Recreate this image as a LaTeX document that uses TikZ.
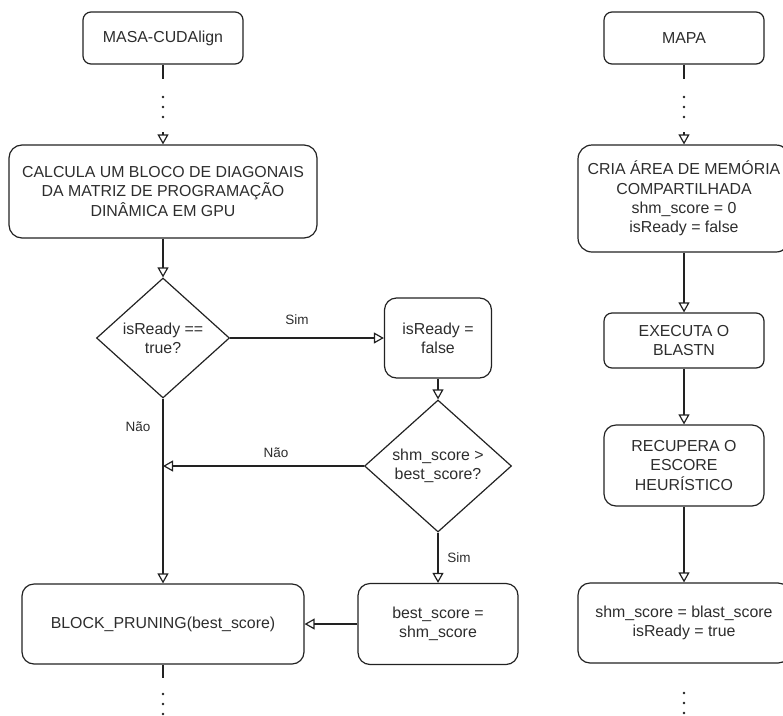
\documentclass[tikz,border=0pt]{standalone}
\usepackage{fontspec}
\setmainfont{Liberation Sans}
\usetikzlibrary{shapes.geometric,arrows.meta,calc}
\definecolor{ink}{RGB}{34,34,34}
\definecolor{txt}{RGB}{45,45,45}
\begin{document}
\begin{tikzpicture}[x=1pt,y=-1pt,
  box/.style={draw=ink, line width=1.2pt, rounded corners=#1, align=center, inner sep=0pt,
    text=txt, font=\fontsize{15.9}{19.2}\selectfont},
  box/.default=10pt,
  dec/.style={draw=ink, line width=1.2pt, diamond, align=center, inner sep=0pt,
    text=txt, font=\fontsize{15.9}{19.2}\selectfont},
  ln/.style={draw=ink, line width=1.2pt},
  arr/.style={draw=ink, line width=1.2pt, -{Triangle[open,length=10pt,width=11pt]}},
  lbl/.style={text=txt, font=\fontsize{13.5}{16}\selectfont, inner sep=0pt},
  dotm/.style={circle, fill=ink, inner sep=0pt, minimum size=2.8pt}
]
\useasboundingbox (0,0) rectangle (783,715);

% ---- left column
\node[box=8pt, minimum width=160, minimum height=52] (masa) at (163,38) {MASA-CUDAlign};
\node[box=13pt, minimum width=308, minimum height=93] (calc) at (163,191.5)
  {CALCULA UM BLOCO DE DIAGONAIS\\DA MATRIZ DE PROGRAMAÇÃO\\DINÂMICA EM GPU};
\node[dec, minimum width=133, minimum height=120] (d1) at (163,338) {isReady ==\\true?};
\node[box=12pt, minimum width=107, minimum height=80] (rdy) at (438,338) {isReady =\\false};
\node[dec, minimum width=147, minimum height=132] (d2) at (438,466) {shm\_score >\\best\_score?};
\node[box=12pt, minimum width=160, minimum height=81] (best) at (438,624) {best\_score =\\shm\_score};
\node[box=12pt, minimum width=282, minimum height=80] (block) at (163,624) {BLOCK\_PRUNING(best\_score)};

% ---- right column
\node[box=8pt, minimum width=160, minimum height=52] (mapa) at (684,38) {MAPA};
\node[box=14pt, minimum width=212, minimum height=107] (cria) at (684,198.5)
  {CRIA ÁREA DE MEMÓRIA\\COMPARTILHADA\\shm\_score = 0\\isReady = false};
\node[box=8pt, minimum width=160, minimum height=55] (exe) at (684,340.5) {EXECUTA O\\BLASTN};
\node[box=12pt, minimum width=160, minimum height=81] (rec) at (684,465.5) {RECUPERA O\\ESCORE\\HEURÍSTICO};
\node[box=12pt, minimum width=212, minimum height=80] (shm) at (684,623)
  {shm\_score = blast\_score\\isReady = true};

% ---- dotted continuations
\draw[ln] (masa.south) -- ++(0,14);
\node[dotm] (m1) at (163,97) {};
\node[dotm] (m2) at (163,107) {};
\node[dotm] (m3) at (163,117) {};
\draw[arr] ($(calc.north)+(0,-12)$) -- (calc.north);

\draw[ln] (mapa.south) -- ++(0,14);
\node[dotm] (p1) at (684,97) {};
\node[dotm] (p2) at (684,107) {};
\node[dotm] (p3) at (684,117) {};
\draw[arr] ($(cria.north)+(0,-12)$) -- (cria.north);

\draw[ln] (block.south) -- ++(0,13);
\node[dotm] (b1) at (163,694) {};
\node[dotm] (b2) at (163,704) {};
\node[dotm] (b3) at (163,714) {};

\node[dotm] (s1) at (684,693) {};
\node[dotm] (s2) at (684,703) {};
\node[dotm] (s3) at (684,713) {};

% ---- connectors
\draw[arr] (calc.south) -- (d1.north);
\draw[arr] (d1.east) -- (rdy.west);
\draw[arr] (rdy.south) -- (d2.north);
\draw[arr] (d2.west) -- (d2.west -| d1.south);
\draw[arr] (d1.south) -- (block.north);
\draw[arr] (d2.south) -- (best.north);
\draw[arr] (best.west) -- (block.east);

\draw[arr] (cria.south) -- (exe.north);
\draw[arr] (exe.south) -- (rec.north);
\draw[arr] (rec.south) -- (shm.north);

% ---- labels
\node[lbl] (lsim1) at (297,320) {Sim};
\node[lbl] (lnao1) at (138,427) {Não};
\node[lbl] (lnao2) at (276,453) {Não};
\node[lbl] (lsim2) at (459,558) {Sim};
\end{tikzpicture}
\end{document}
